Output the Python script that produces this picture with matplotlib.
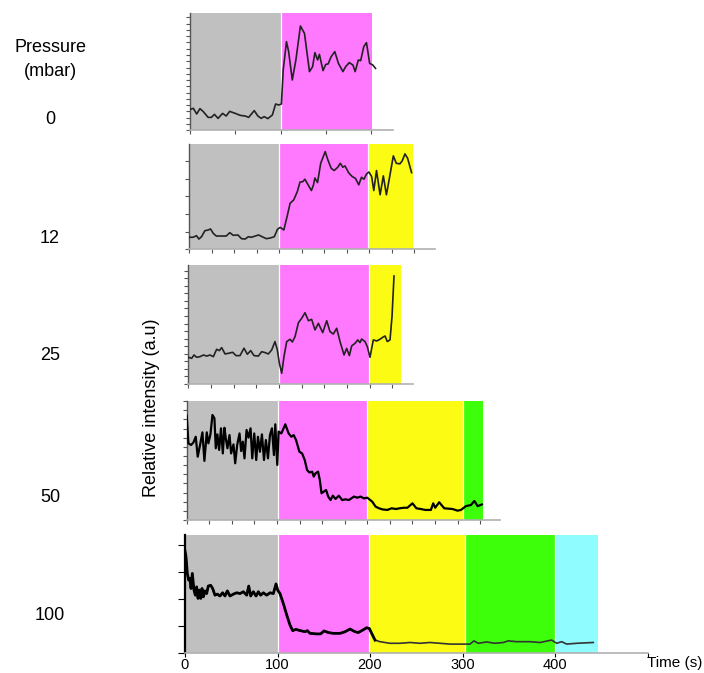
import matplotlib
matplotlib.use("Agg")
import matplotlib.pyplot as plt
import numpy as np

plt.rcParams['font.family'] = ['Liberation Sans', 'DejaVu Sans']

# ---- data: time (s) and relative intensity (a.u.) for each pressure ----
pressures = ["0", "12", "25", "50", "100"]

t_0 = [0, 3.7, 7.4, 11, 14.7, 20, 23.6, 27, 31, 36, 40, 43.8, 50, 55.6, 61, 64.8,
       71, 75, 78.6, 82, 86, 91, 94.6, 98, 101, 103, 106.6, 109, 113, 117, 122,
       126.5, 132, 135.5, 138, 141, 143, 147, 150, 152.6, 156, 160, 164, 169, 172,
       176, 180, 182.5, 186, 188.6, 192, 195, 198.5, 202, 205]
v_0 = [1.65, 1.73, 1.28, 1.71, 1.47, 1.01, 1.01, 1.25, 0.93, 1.33, 1.12, 1.49, 1.33,
       1.17, 1.12, 1.01, 1.55, 1.12, 0.93, 1.07, 0.91, 1.2, 2.08, 2.0, 2.08, 4.8,
       7.07, 6.27, 4.0, 5.6, 8.32, 7.73, 4.67, 5.07, 6.19, 5.6, 6.05, 4.75, 5.25,
       5.28, 5.87, 6.27, 5.33, 4.67, 5.07, 5.39, 5.2, 4.67, 5.6, 5.55, 6.67, 6.99,
       5.33, 5.2, 4.93]

t_12 = [0, 4.3, 8, 10.6, 13.6, 17.3, 21, 23.6, 26.6, 30, 37.7, 41, 45, 48.8, 54, 58,
        62, 65.6, 69, 77, 81, 85.6, 90, 94.4, 98, 101, 105, 108.6, 112, 116, 120,
        123, 126, 128.5, 132, 135.7, 138, 139.5, 142.5, 146, 151, 154, 157.6, 161,
        165, 167.7, 170.6, 173, 177, 181, 184.6, 188.3, 191.3, 194, 197, 199.6,
        202.6, 205, 208, 212, 215.6, 219, 222, 226.7, 230, 234, 236.6, 239.6,
        242.6, 247]
v_12 = [0.68, 0.68, 0.77, 0.58, 0.71, 1.05, 1.09, 1.15, 0.9, 0.75, 0.75, 0.75, 0.94,
        0.79, 0.81, 0.6, 0.58, 0.71, 0.68, 0.81, 0.71, 0.6, 0.64, 0.71, 1.13, 1.24,
        1.09, 1.84, 2.6, 2.79, 3.26, 3.8, 3.82, 3.96, 3.64, 3.32, 3.64, 4.03, 3.77,
        4.86, 5.52, 5.05, 4.58, 4.45, 4.64, 4.86, 4.64, 4.71, 4.33, 4.11, 4.01,
        3.64, 4.07, 3.96, 4.26, 4.37, 4.11, 3.32, 4.45, 3.08, 4.15, 3.08, 3.92,
        5.28, 4.86, 4.83, 5.0, 5.39, 5.14, 4.33]

t_25 = [0, 3.7, 6.3, 9.2, 12.9, 16.6, 20.3, 23.9, 27.6, 31.3, 34.2, 36.8, 40.5, 44.1,
        48.9, 52.6, 57, 61.4, 65.1, 68.8, 72.4, 77.2, 80.9, 84.6, 88.2, 91.9, 95.6,
        98.2, 100.4, 103, 105.5, 108.5, 112.2, 114.7, 117.7, 121.4, 125, 128.7,
        132.4, 136, 139.7, 143.4, 148.2, 152.6, 156.2, 159.9, 163.6, 167.3, 171.7,
        174.6, 177.6, 180.1, 183.8, 186.8, 189.3, 191.1, 194.8, 197.4, 200.3, 204,
        207.7, 211.3, 214.3, 216.9, 219.4, 222.4, 224.6, 226.8]
v_25 = [1.77, 1.70, 1.92, 1.77, 1.81, 1.92, 1.85, 1.92, 1.81, 2.30, 2.21, 2.41, 1.99,
        2.03, 2.10, 1.88, 1.88, 2.37, 1.97, 2.21, 1.88, 1.85, 2.14, 2.08, 1.99,
        2.25, 2.81, 2.25, 1.37, 0.71, 1.81, 2.81, 2.96, 2.78, 3.14, 4.06, 4.35,
        4.72, 4.19, 4.28, 3.58, 4.02, 3.40, 4.19, 3.47, 3.31, 3.69, 2.81, 1.92,
        2.36, 1.88, 2.52, 2.69, 2.92, 2.74, 2.98, 2.81, 2.47, 1.77, 2.92, 2.85,
        2.96, 3.09, 3.18, 2.81, 2.92, 4.46, 7.15]

t_50 = [0, 1.9, 4.8, 7.4, 10, 12.2, 14.8, 17.4, 19.6, 22.2, 24, 26.3, 28.5, 30.7,
        32.2, 34, 35.9, 38, 40, 41.8, 43.3, 45.1, 47.4, 49.2, 51.8, 53.7, 55.9,
        58.5, 60.3, 62.2, 64, 66.3, 68.5, 70.7, 72.6, 74.8, 77, 78.9, 81.1, 83.3,
        85.6, 87.7, 90, 92.2, 94.4, 96.6, 98.1, 100.3, 101.8, 104.8, 109.2, 112.9,
        115.9, 118.5, 121.1, 124.8, 127.8, 130.7, 133.3, 135.9, 138.9, 140.7,
        142.6, 145.5, 147.4, 149.3, 151.8, 154.4, 156.7, 159.3, 161.8, 164.8,
        168.5, 172.2, 175.9, 179.6, 185.2, 188.9, 192.6, 196.3, 200, 205.5, 209.2,
        213, 216.7, 222.2, 227, 231.5, 235.9, 240.7, 244.4, 250, 254.4, 259.3,
        264.1, 270.4, 273, 275.2, 279.6, 285.2, 294.4, 300, 303.7, 309.3, 314.8,
        318.5, 322.2, 327]
v_50 = [5.70, 4.19, 4.10, 4.23, 4.55, 3.46, 4.10, 4.79, 3.23, 4.79, 4.19, 4.68, 5.74,
        5.56, 3.92, 4.68, 3.83, 5.01, 3.64, 5.04, 4.46, 3.92, 4.64, 3.64, 4.13,
        3.10, 4.10, 4.73, 3.77, 4.28, 3.37, 4.92, 4.50, 5.01, 3.37, 4.73, 3.28,
        4.55, 3.73, 4.68, 3.28, 4.37, 3.37, 4.64, 5.01, 3.55, 5.23, 3.01, 4.83,
        4.73, 5.23, 4.73, 4.55, 4.64, 4.37, 3.73, 3.64, 3.28, 2.73, 2.60, 2.64,
        2.37, 2.55, 2.64, 2.19, 1.46, 1.55, 1.64, 1.28, 1.09, 1.33, 1.15, 1.33,
        1.09, 1.13, 1.09, 1.28, 1.22, 1.28, 1.18, 1.22, 1.0, 0.73, 0.64, 0.58,
        0.55, 0.64, 0.60, 0.64, 0.67, 0.67, 0.91, 0.64, 0.60, 0.55, 0.55, 0.91,
        0.67, 0.97, 0.64, 0.60, 0.51, 0.55, 0.76, 0.82, 1.04, 0.76, 0.85]

t_100 = [0, 1.1, 2.5, 4.0, 5.4, 6.5, 7.9, 9.7, 11.2, 12.6, 14.1, 15.5, 17.0, 18.4,
         19.8, 21.6, 23.4, 25.2, 27.7, 29.9, 32.4, 35.0, 37.8, 40.7, 43.2, 45.8,
         48.6, 52.3, 55.9, 59.5, 63.1, 66.7, 68.9, 71.0, 73.9, 76.8, 79.3, 81.8,
         84.7, 88.3, 91.9, 95.5, 98.4, 100.2, 102.7, 106.3, 110.0, 113.5, 116.4,
         120.0, 122.5, 126.1, 129.7, 132.3, 135.1, 142.3, 146.6, 150.3, 155.0,
         160.4, 167.6, 173.0, 178.4, 183.8, 187.4, 192.1, 196.4, 199.3, 201.8,
         205.4, 210.8, 221.6, 232.4, 243.2, 254.1, 264.9, 275.7, 286.5, 297.3,
         308.1, 312.4, 317.1, 326.1, 335.1, 344.1, 349.5, 358.6, 373.0, 383.8,
         396.4, 401.8, 407.2, 412.6, 423.4, 441.4]
v_100 = [3.79, 3.57, 2.95, 2.70, 2.76, 2.39, 2.95, 2.33, 2.14, 2.45, 2.02, 2.33, 2.02,
         2.39, 2.08, 2.30, 2.20, 2.48, 2.51, 2.39, 2.14, 2.18, 2.11, 2.23, 2.11,
         2.30, 2.11, 2.18, 2.23, 2.20, 2.27, 2.14, 2.48, 2.11, 2.27, 2.11, 2.27,
         2.14, 2.23, 2.14, 2.23, 2.20, 2.56, 2.33, 2.20, 1.83, 1.40, 1.03, 0.82,
         0.87, 0.84, 0.81, 0.78, 0.82, 0.72, 0.70, 0.70, 0.81, 0.75, 0.72, 0.72,
         0.78, 0.88, 0.78, 0.75, 0.84, 0.93, 0.90, 0.72, 0.47, 0.41, 0.35, 0.35,
         0.38, 0.35, 0.38, 0.35, 0.32, 0.32, 0.32, 0.44, 0.35, 0.40, 0.35, 0.38,
         0.44, 0.41, 0.41, 0.38, 0.47, 0.35, 0.41, 0.32, 0.35, 0.38]

# phase boundaries (s) for each run
bands_0 = [0, 100, 201]
bands_12 = [0, 100, 198, 249]
bands_25 = [0, 100, 199, 235]
bands_50 = [0, 101, 200, 306, 328]
bands_100 = [0, 101, 199, 303, 400, 446]

phase_colors = ["#c0c0c0", "#ff79ff", "#fbfb14", "#3dff0a", "#8ffcff"]

series = [(t_0, v_0, bands_0), (t_12, v_12, bands_12), (t_25, v_25, bands_25),
          (t_50, v_50, bands_50), (t_100, v_100, bands_100)]

# ---- layout (pixels) ----
W, H = 704, 673
# left, top, bottom, px per second, x-axis end (s), y top (a.u.), y tick step, x tick step
geom = [
    (190.0, 13.0, 130.0, 0.905, 224, 9.36, 0.5, 50),
    (189.3, 144.0, 249.3, 0.900, 273, 5.95, 1.0, 25),
    (188.3, 265.0, 384.0, 0.907, 248, 7.88, 0.5, 25),
    (186.7, 400.7, 520.0, 0.903, 347, 6.52, 0.5, 25),
    (185.0, 535.0, 652.7, 0.925, 500, 4.38, 1.0, 100),
]

fig = plt.figure(figsize=(W / 100, H / 100), dpi=100)
fig.patch.set_facecolor("white")

for i, ((t, v, edges), g) in enumerate(zip(series, geom)):
    left, top, bottom, pps, xend, ytop, ystep, xstep = g
    width = xend * pps
    ax = fig.add_axes([left / W, 1 - bottom / H, width / W, (bottom - top) / H])
    ax.set_xlim(0, xend)
    ax.set_ylim(0, ytop)
    ax.set_facecolor("none")
    for k in range(len(edges) - 1):
        ax.axvspan(edges[k], edges[k + 1], color=phase_colors[k], lw=0, zorder=0)
        if k > 0:
            ax.axvline(edges[k], color="white", lw=0.9, zorder=1)

    t_arr = np.asarray(t)
    v_arr = np.asarray(v)
    if i == 4:
        ax.plot(t_arr, v_arr, color="#333333", lw=1.2, zorder=3)
        m = t_arr <= 206
        ax.plot(t_arr[m], v_arr[m], color="black", lw=2.0, zorder=4)
    elif i == 3:
        ax.plot(t_arr, v_arr, color="black", lw=1.6, zorder=3)
    else:
        ax.plot(t_arr, v_arr, color="#222222", lw=1.2, zorder=3)

    for s in ("top", "right"):
        ax.spines[s].set_visible(False)
    ax.spines["bottom"].set_color("#b0b0b0")
    ax.spines["bottom"].set_linewidth(1.2)
    ax.spines["left"].set_color("black" if i == 4 else "#555555")
    ax.spines["left"].set_linewidth(1.6 if i == 4 else 1.0)

    ax.set_yticks(np.arange(0, ytop + 1e-6, ystep))
    ax.set_xticks(np.arange(0, xend + 1e-6, xstep))
    ax.tick_params(axis="y", direction="out", length=3, width=0.8, colors="#555555",
                   labelleft=False)
    ax.tick_params(axis="x", direction="out", length=3, width=0.8, colors="#555555",
                   labelbottom=False)
    if i == 4:
        ax.tick_params(axis="y", length=5, colors="black")
        ax.tick_params(axis="x", length=3, colors="black", labelbottom=True,
                       labelsize=10.5, labelcolor="black", pad=0.5)
        ax.set_xticklabels(["0", "100", "200", "300", "400", ""])

# ---- annotations ----
fig.text(50 / W, 1 - 47 / H, "Pressure", ha="center", va="center", fontsize=13)
fig.text(50 / W, 1 - 72 / H, "(mbar)", ha="center", va="center", fontsize=13)
for label, y in zip(pressures, [119, 238, 356, 497, 615]):
    fig.text(50 / W, 1 - y / H, label, ha="center", va="center", fontsize=13)

fig.text(152 / W, 1 - 408 / H, "Relative intensity (a.u)", rotation=90,
         ha="center", va="center", fontsize=13)
fig.text(675 / W, 1 - 663 / H, "Time (s)", ha="center", va="center", fontsize=11)

fig.savefig("out.png", dpi=100)
